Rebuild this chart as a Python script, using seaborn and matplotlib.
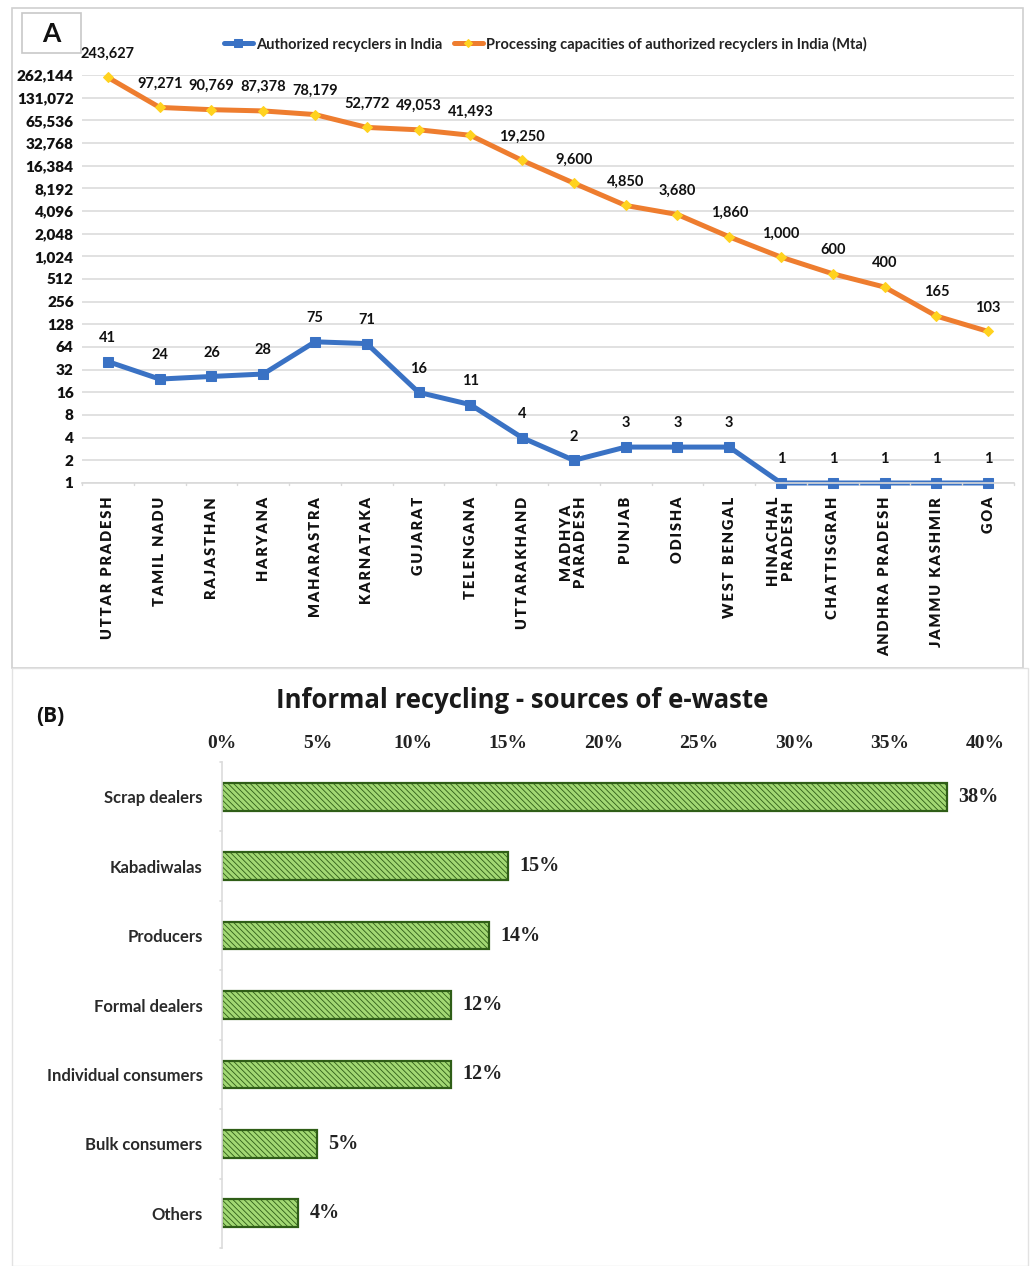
import matplotlib
matplotlib.use("Agg")
import matplotlib.pyplot as plt
import matplotlib.patches as mpatches
from matplotlib.ticker import FixedLocator, FuncFormatter, NullFormatter
import seaborn as sns
import pandas as pd

# ---- data: panel A ----
states = ["UTTAR PRADESH", "TAMIL NADU", "RAJASTHAN", "HARYANA", "MAHARASTRA",
          "KARNATAKA", "GUJARAT", "TELENGANA", "UTTARAKHAND", "MADHYA\nPARADESH",
          "PUNJAB", "ODISHA", "WEST BENGAL", "HINACHAL\nPRADESH", "CHATTISGRAH",
          "ANDHRA PRADESH", "JAMMU KASHMIR", "GOA"]
recyclers = [41, 24, 26, 28, 75, 71, 16, 11, 4, 2, 3, 3, 3, 1, 1, 1, 1, 1]
capacity = [243627, 97271, 90769, 87378, 78179, 52772, 49053, 41493, 19250,
            9600, 4850, 3680, 1860, 1000, 600, 400, 165, 103]
y_ticks_a = [2 ** k for k in range(19)]

# ---- data: panel B ----
sources = ["Scrap dealers", "Kabadiwalas", "Producers", "Formal dealers",
           "Individual consumers", "Bulk consumers", "Others"]
shares = [0.38, 0.15, 0.14, 0.12, 0.12, 0.05, 0.04]
x_ticks_b = [0.0, 0.05, 0.10, 0.15, 0.20, 0.25, 0.30, 0.35, 0.40]

sns.set_theme(style="white")
plt.rcParams["font.family"] = ["Lato", "DejaVu Sans"]
plt.rcParams["hatch.color"] = "#4f8c2c"
plt.rcParams["hatch.linewidth"] = 0.6

W, H = 1030, 1266
fig = plt.figure(figsize=(W / 100, H / 100), dpi=100)


def frac(x0, y0, x1, y1):
    return [x0 / W, 1 - y1 / H, (x1 - x0) / W, (y1 - y0) / H]


def spaced(label):
    # widen category names with thin spaces between letters
    return "\n".join("\u2009".join(line) for line in label.split("\n"))


# panel frames
fig.patches.append(mpatches.Rectangle((12 / W, 1 - 668 / H), (1023 - 12) / W, (668 - 8) / H,
                                      transform=fig.transFigure, fill=False,
                                      edgecolor="#d0d0d0", lw=1.2))
fig.patches.append(mpatches.Rectangle((12 / W, 0.0), (1028 - 12) / W, (1266 - 668) / H,
                                      transform=fig.transFigure, fill=False,
                                      edgecolor="#e2e2e2", lw=1.0))
fig.patches.append(mpatches.Rectangle((22 / W, 1 - 53 / H), (81 - 22) / W, (53 - 13) / H,
                                      transform=fig.transFigure, fill=False,
                                      edgecolor="#c8c8c8", lw=1.2))
fig.text(51 / W, 1 - 34 / H, "A", ha="center", va="center", fontsize=19,
         fontweight="bold", color="#111111")

# ---- panel A: log2 line chart ----
ax1 = fig.add_axes(frac(82, 75, 1014, 483))
dfa = pd.DataFrame({"state": states, "recyclers": recyclers, "capacity": capacity})
blue = "#3a72c4"
orange = "#ee7d2f"
sns.lineplot(data=dfa, x="state", y="recyclers", sort=False, ax=ax1, color=blue,
             lw=3.6, marker="s", markersize=7, markeredgecolor=blue, clip_on=False,
             label="Authorized recyclers in India")
sns.lineplot(data=dfa, x="state", y="capacity", sort=False, ax=ax1, color=orange,
             lw=3.6, marker="D", markersize=5, markerfacecolor="#ffd21f", clip_on=False,
             markeredgecolor="#ffd21f", label="Processing capacities of authorized recyclers in India (Mta)")
ax1.set_yscale("log", base=2)
ax1.set_ylim(1, 262144)
ax1.set_xlim(-0.5, len(states) - 0.5)
ax1.yaxis.set_major_locator(FixedLocator(y_ticks_a))
ax1.yaxis.set_minor_formatter(NullFormatter())
ax1.yaxis.set_major_formatter(FuncFormatter(lambda v, p: f"{int(round(v)):,}"))
ax1.minorticks_off()
ax1.grid(axis="y", color="#dcdcdc", lw=1.2)
ax1.set_axisbelow(True)
for s in ["top", "right", "left"]:
    ax1.spines[s].set_visible(False)
ax1.spines["bottom"].set_color("#d9d9d9")
ax1.spines["bottom"].set_linewidth(1.2)
ax1.set_xlabel("")
ax1.set_ylabel("")
ax1.set_xticks(range(len(states)))
ax1.set_xticklabels([spaced(s) for s in states])
ax1.tick_params(axis="y", length=0, pad=6, labelsize=11, labelcolor="#111111")
ax1.tick_params(axis="x", length=0, pad=10, labelsize=10.5, labelcolor="#111111",
                rotation=90)
for lab in ax1.get_yticklabels():
    lab.set_fontweight("heavy")
for lab in ax1.get_xticklabels():
    lab.set_fontweight("heavy")
    lab.set_va("top")
    lab.set_linespacing(1.1)
# category separators on the bottom axis
for i in range(len(states) + 1):
    ax1.plot([i - 0.5, i - 0.5], [1, 0.93], color="#d9d9d9", lw=1.0, clip_on=False)

for i, (r, c) in enumerate(zip(recyclers, capacity)):
    ax1.annotate(f"{r:,}", (i, r), xytext=(0, 12), textcoords="offset points",
                 ha="center", va="bottom", fontsize=10.5, fontweight="bold", color="#111111")
    ax1.annotate(f"{c:,}", (i, c), xytext=(0, 12), textcoords="offset points",
                 ha="center", va="bottom", fontsize=10.5, fontweight="bold", color="#111111")

leg = ax1.legend(loc="center", bbox_to_anchor=(545 / W, 1 - 44 / H),
                 bbox_transform=fig.transFigure, ncol=2, frameon=False,
                 fontsize=10.5, handlelength=2.0, handletextpad=0.2, columnspacing=0.8,
                 markerscale=0.8)
for t in leg.get_texts():
    t.set_fontweight("bold")
    t.set_color("#222222")

# ---- panel B: horizontal bar chart ----
ax2 = fig.add_axes(frac(222, 762, 985, 1248))
dfb = pd.DataFrame({"source": sources, "share": shares})
sns.barplot(data=dfb, x="share", y="source", orient="h", ax=ax2, width=0.4,
            color="#a2d873", edgecolor="#2f5e17", linewidth=1.6, saturation=1)
for bar in ax2.patches:
    bar.set_hatch("\\\\\\\\\\\\")
ax2.set_xlim(0, 0.40)
ax2.set_ylim(len(sources) - 0.5, -0.5)
ax2.xaxis.tick_top()
ax2.xaxis.set_major_locator(FixedLocator(x_ticks_b))
ax2.xaxis.set_major_formatter(FuncFormatter(lambda v, p: f"{int(round(v * 100))}%"))
ax2.tick_params(axis="x", length=0, pad=7, labelsize=14, labelcolor="#222222")
for lab in ax2.get_xticklabels():
    lab.set_family(["Liberation Serif", "DejaVu Serif"])
    lab.set_fontweight("bold")
ax2.tick_params(axis="y", length=0, pad=14, labelsize=12, labelcolor="#2a2a2a")
for lab in ax2.get_yticklabels():
    lab.set_fontweight("bold")
ax2.set_xlabel("")
ax2.set_ylabel("")
for s in ["top", "right", "bottom"]:
    ax2.spines[s].set_visible(False)
ax2.spines["left"].set_color("#dcdcdc")
ax2.spines["left"].set_linewidth(1.2)
for i in range(len(sources) + 1):
    ax2.plot([-0.0012, 0], [i - 0.5, i - 0.5], color="#dcdcdc", lw=1.2, clip_on=False)
for i, v in enumerate(shares):
    ax2.annotate(f"{int(round(v * 100))}%", (v, i), xytext=(8, 0), textcoords="offset points",
                 ha="left", va="center", fontsize=14.5, fontweight="bold", color="#222222",
                 family=["Liberation Serif", "DejaVu Serif"])

fig.text(522 / W, 1 - 700 / H, "Informal recycling - sources of e-waste", ha="center",
         va="center", fontsize=18.5, fontweight="bold", color="#1a1a1a",
         family=["Open Sans", "DejaVu Sans"])
fig.text(50 / W, 1 - 716 / H, "(B)", ha="center", va="center", fontsize=15,
         fontweight="bold", color="#111111", family=["Open Sans", "DejaVu Sans"])

fig.savefig("out.png", dpi=100, facecolor="white")
